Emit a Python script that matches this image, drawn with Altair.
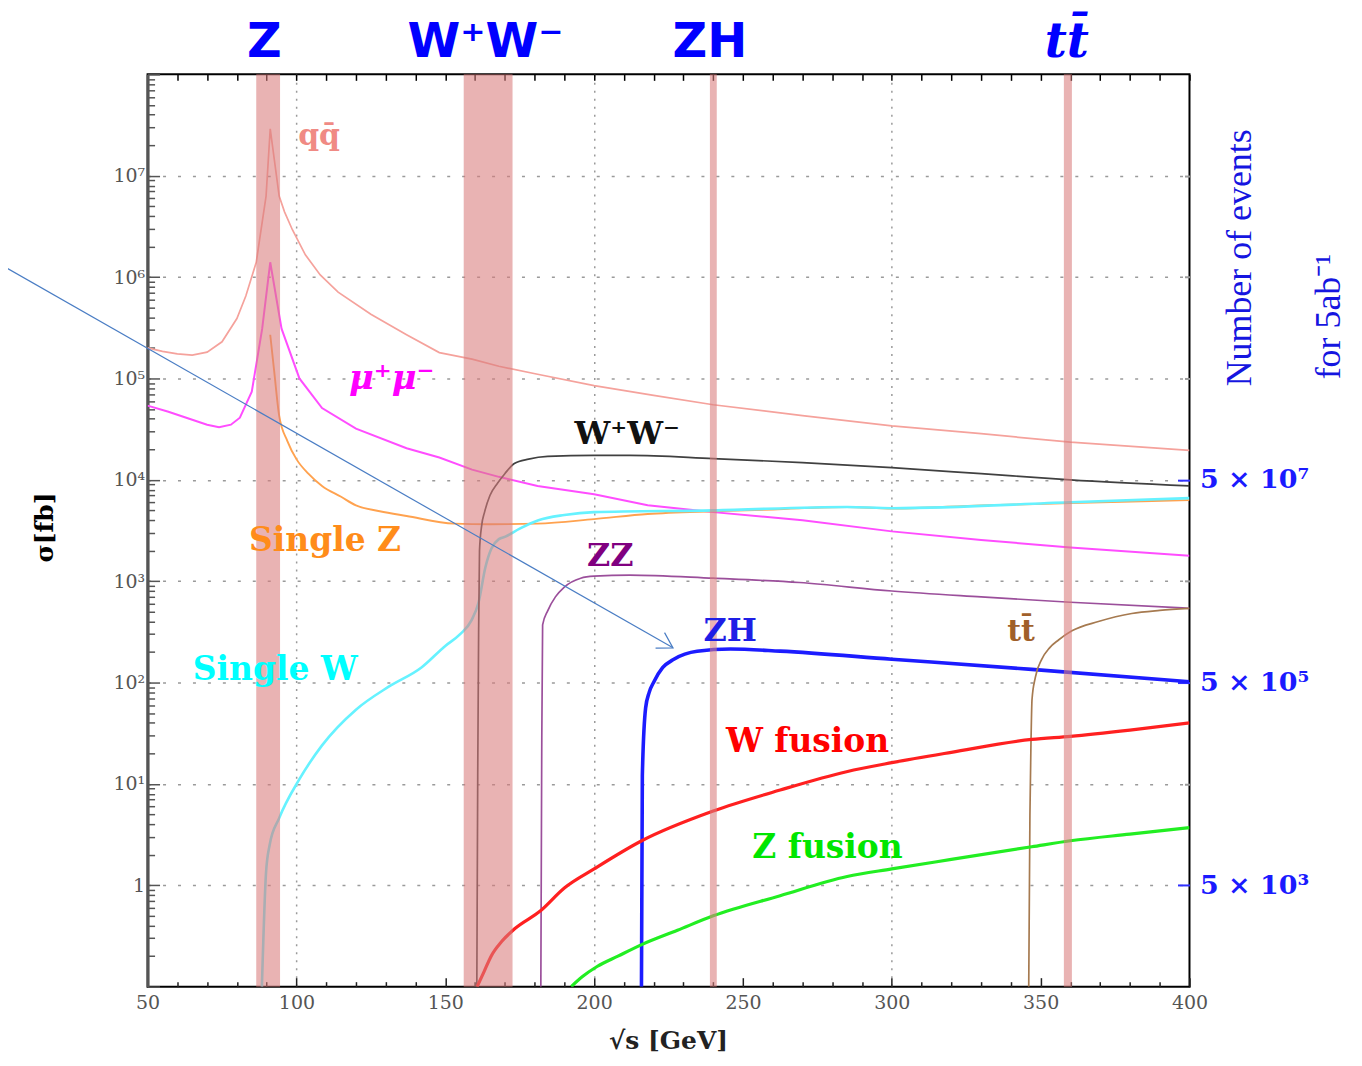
import altair as alt
import pandas as pd

# ---------------- data (x: sqrt(s) [GeV], y: sigma [fb]) ----------------
qq_x = [50, 55, 60, 65, 70, 75, 80, 83, 86.5, 89.8, 91.2, 94.2, 96, 98.6, 103, 108, 114, 125, 137, 148,
        159, 168, 181, 200, 220, 240, 270, 300, 330, 360, 400]
qq_y = [2.0e5, 1.85e5, 1.75e5, 1.7e5, 1.82e5, 2.3e5, 3.9e5, 6.5e5, 1.4e6, 6.3e6, 2.9e7, 6.3e6, 4.4e6, 2.95e6,
        1.66e6, 1.05e6, 7.1e5, 4.3e5, 2.7e5, 1.8e5, 1.55e5, 1.32e5, 1.1e5, 8.5e4, 6.8e4, 5.5e4, 4.3e4, 3.4e4,
        2.85e4, 2.35e4, 1.95e4]

mm_x = [50, 57, 64, 70, 74, 78, 81, 85, 88.5, 91.2, 95, 101, 108.6, 120, 137, 148, 159, 168, 181, 200,
        218, 240, 270, 300, 330, 360, 400]
mm_y = [5.4e4, 4.7e4, 4.0e4, 3.5e4, 3.3e4, 3.5e4, 4.1e4, 7.4e4, 3.1e5, 1.4e6, 3.1e5, 1.0e5, 5.1e4, 3.2e4,
        2.05e4, 1.66e4, 1.26e4, 1.07e4, 8.7e3, 7.2e3, 5.6e3, 4.8e3, 4.0e3, 3.1e3, 2.55e3, 2.15e3, 1.78e3]

sz_x = [91.2, 92.5, 94.2, 97, 100, 104, 108.6, 115, 120, 128, 137, 153, 165, 181, 200, 218, 240, 260, 285,
        300, 330, 360, 400]
sz_y = [2.7e5, 1.2e5, 4.3e4, 2.4e4, 1.6e4, 1.15e4, 8.7e3, 6.8e3, 5.6e3, 4.9e3, 4.4e3, 3.7e3, 3.65e3, 3.7e3,
        4.1e3, 4.6e3, 4.9e3, 5.1e3, 5.4e3, 5.2e3, 5.6e3, 5.9e3, 6.3e3]

sw_x = [88.4, 89.8, 91, 94.2, 100.9, 108.6, 120, 131, 142, 150, 155, 158.8, 161.2, 163.5, 165.5, 168, 170.2,
        175, 181.3, 190, 200, 240, 285, 300, 360, 400]
sw_y = [0.1, 1.35, 2.5, 4.6, 11, 24, 54, 91, 141, 230, 300, 410, 620, 1380, 2100, 2600, 2750, 3300, 4000,
        4500, 4800, 5000, 5400, 5250, 6000, 6600]

ww_x = [160.6, 160.9, 161.2, 161.5, 162.2, 163.2, 165, 167.6, 170, 173.2, 178, 184.4, 200, 212, 240, 270,
        300, 330, 360, 400]
ww_y = [0.1, 12, 300, 2000, 3500, 4800, 7000, 9300, 11500, 14500, 16000, 17000, 17400, 17400, 16200, 14800,
        13200, 11500, 10000, 8700]

zz_x = [182.1, 182.4, 182.7, 184.4, 187, 189.9, 195.5, 200, 212, 240, 269, 300, 330, 360, 400]
zz_y = [0.1, 20, 370, 510, 700, 870, 1070, 1120, 1150, 1070, 970, 800, 700, 620, 540]

zh_x = [215.9, 216.2, 217.3, 218.5, 220.1, 223, 226.8, 234.6, 245.8, 262.5, 300, 347, 400]
zh_y = [0.1, 12, 56, 80, 102, 140, 170, 204, 214, 204, 170, 135, 102]

tt_x = [346.0, 346.4, 346.8, 347.1, 348.2, 350.4, 353, 356, 360.5, 369.4, 380.6, 390, 400]
tt_y = [0.1, 5, 30, 68, 112, 170, 220, 263, 324, 400, 480, 515, 540]

wf_x = [160.7, 163, 165.4, 169, 173.2, 182, 190, 200, 216, 240, 262.5, 284.8, 300, 320, 347, 360, 380, 400]
wf_y = [0.1, 0.14, 0.2, 0.28, 0.37, 0.56, 0.94, 1.45, 2.75, 5.4, 8.7, 13.2, 16.2, 20.5, 27.5, 29.5, 34, 40]

zf_x = [192.3, 196, 201, 208, 216, 228, 240, 262.5, 285, 300, 320, 347, 360, 380, 400]
zf_y = [0.1, 0.125, 0.158, 0.2, 0.26, 0.36, 0.5, 0.79, 1.22, 1.45, 1.8, 2.4, 2.75, 3.2, 3.7]

# resonance / threshold bands [GeV]
band_name = ["Z", "WW", "ZH", "tt"]
band_lo = [86.5, 156.2, 238.9, 357.8]
band_hi = [94.5, 172.6, 241.2, 360.5]

# axis ticks and labels
x_tick_values = list(range(50, 401, 10))
y_label_values = [1, 10, 100, 1e3, 1e4, 1e5, 1e6, 1e7]
y_label_texts = ["1", "10¹", "10²", "10³", "10⁴", "10⁵", "10⁶", "10⁷"]
y_minor_values = sorted(float(m * 10.0 ** k) for k in range(-1, 8) for m in range(1, 10)) + [1e8]
r_label_values = [1, 100, 1e4]
r_label_texts = ["5 × 10³", "5 × 10⁵", "5 × 10⁷"]
r_tick_values = [1, 10, 100, 1e3, 1e4, 1e5, 1e6, 1e7]

# annotation arrow (start far left, tip near the ZH curve)
arrow_x = [0.4, 226.5]
arrow_y = [1.34e6, 220]

# ---------------- styling ----------------
series = [
    ("qq", qq_x, qq_y, "#F5A29C", 1.7, "linear"),
    ("mumu", mm_x, mm_y, "#FF4DFF", 2.0, "linear"),
    ("singleZ", sz_x, sz_y, "#FFA24F", 1.9, "monotone"),
    ("singleW", sw_x, sw_y, "#66F2FF", 2.6, "monotone"),
    ("WW", ww_x, ww_y, "#404040", 1.7, "monotone"),
    ("ZZ", zz_x, zz_y, "#9B4F9B", 1.7, "monotone"),
    ("ZH", zh_x, zh_y, "#1C1CFF", 3.6, "monotone"),
    ("tt", tt_x, tt_y, "#A67A50", 1.7, "monotone"),
    ("Wfusion", wf_x, wf_y, "#FF2020", 3.2, "monotone"),
    ("Zfusion", zf_x, zf_y, "#22EE22", 3.2, "monotone"),
]

band_df = pd.DataFrame({"name": band_name, "lo": band_lo, "hi": band_hi})

W, H = 1045, 915
xscale = alt.Scale(domain=[50, 400], nice=False, zero=False)
yscale = alt.Scale(type="log", domain=[0.1, 1e8], nice=False)

LOG10 = "(log(datum.value)/LN10)"
IS_DEC = f"(abs({LOG10} - round({LOG10})) < 0.001)"


def match_expr(values, texts, default="''"):
    expr = default
    for v, t in zip(values, texts):
        expr = f"(abs(datum.value - {v}) < {v} * 0.001) ? '{t}' : ({expr})"
    return expr


is_rlab = " || ".join(f"(abs(datum.value - {v}) < {v} * 0.001)" for v in r_label_values)

bottom_axis = alt.Axis(
    orient="bottom",
    values=x_tick_values,
    labelExpr="datum.value % 50 == 0 ? datum.label : ''",
    labelFont="DejaVu Serif",
    labelFontSize=19,
    labelColor="#555555",
    labelPadding=16,
    labelFlush=False,
    labelOverlap=False,
    tickSize=alt.ExprRef(expr="datum.value % 50 == 0 ? -9 : -5"),
    tickColor="#222222",
    tickWidth=1.5,
    domain=False,
    grid=True,
    gridOpacity=alt.ExprRef(expr="(datum.value % 100 == 0 && datum.value > 50 && datum.value < 400) ? 1 : 0"),
    gridDash=[2, 6],
    gridColor="#9a9a9a",
    gridWidth=1.5,
    title="√s [GeV]",
    titleFont="DejaVu Serif",
    titleFontSize=25,
    titleFontWeight="bold",
    titleColor="#222222",
    titleX=522,
    titleY=54,
    titleAlign="center",
    titleBaseline="middle",
)

left_axis = alt.Axis(
    orient="left",
    values=y_minor_values,
    labelExpr=match_expr(y_label_values, y_label_texts),
    labelFont="DejaVu Serif",
    labelFontSize=19,
    labelColor="#555555",
    labelPadding=15,
    labelFlush=False,
    labelOverlap=False,
    tickSize=alt.ExprRef(expr=f"{IS_DEC} ? -12 : -7"),
    tickColor="#555555",
    tickWidth=1.5,
    domain=True,
    domainColor="#555555",
    domainWidth=3,
    grid=True,
    gridOpacity=alt.ExprRef(expr=f"({IS_DEC} && datum.value > 0.5 && datum.value < 2e7) ? 1 : 0"),
    gridDash=[3, 12],
    gridColor="#9a9a9a",
    gridWidth=1.5,
    title="σ[fb]",
    titleFont="DejaVu Serif",
    titleFontSize=25,
    titleFontWeight="bold",
    titleColor="#000000",
    titleAngle=270,
    titleX=-103,
    titleY=454,
    titleAlign="center",
    titleBaseline="middle",
)

top_axis = alt.Axis(
    orient="top",
    values=x_tick_values,
    labels=False,
    domain=False,
    grid=False,
    tickSize=alt.ExprRef(expr="-6"),
    tickColor="#000000",
    tickWidth=1.5,
    title=None,
)

right_axis = alt.Axis(
    orient="right",
    values=r_tick_values,
    labelExpr=match_expr(r_label_values, r_label_texts),
    labelFont="DejaVu Serif",
    labelFontSize=27,
    labelFontWeight="bold",
    labelColor="#1a1aff",
    labelPadding=22,
    labelFlush=False,
    labelOverlap=False,
    tickSize=alt.ExprRef(expr=f"({is_rlab}) ? -12 : -5"),
    tickColor=alt.ExprRef(expr=f"({is_rlab}) ? '#3030ff' : '#999999'"),
    tickWidth=2,
    domain=False,
    grid=False,
    title=None,
)

# ---------------- layers ----------------
curve_layers = []
for i, (sid, xs, ys, col, sw, interp) in enumerate(series):
    df = pd.DataFrame({"x": xs, "y": ys})
    curve_layers.append(
        alt.Chart(df).mark_line(clip=True, color=col, strokeWidth=sw, interpolate=interp).encode(
            x=alt.X("x:Q", scale=xscale, axis=bottom_axis if i == 0 else None),
            y=alt.Y("y:Q", scale=yscale, axis=left_axis if i == 0 else None),
        )
    )

axes2 = alt.Chart(pd.DataFrame({"x": qq_x, "y": qq_y})).mark_point(opacity=0, size=1).encode(
    x=alt.X("x:Q", scale=xscale, axis=top_axis),
    y=alt.Y("y:Q", scale=yscale, axis=right_axis),
)

bands = alt.Chart(band_df).mark_rect(color="#D97C7C", opacity=0.58).encode(
    x=alt.X("lo:Q", scale=xscale, axis=None),
    x2="hi:Q",
)


def label(text, x, y, color, size, font="DejaVu Serif", weight="bold", style="normal",
          angle=0, align="center"):
    df = pd.DataFrame({"x": [x], "y": [y], "t": [text]})
    return alt.Chart(df).mark_text(
        color=color, fontSize=size, font=font, fontWeight=weight, fontStyle=style,
        angle=angle, align=align, baseline="alphabetic",
    ).encode(
        x=alt.X("x:Q", scale=xscale, axis=None),
        y=alt.Y("y:Q", scale=yscale, axis=None),
        text="t:N",
    )


texts = [
    label("qq̄", 107.6, 2.0e7, "#F08A84", 30),
    label("μ⁺μ⁻", 132.0, 7.8e4, "#FF00FF", 34, style="italic"),
    label("W⁺W⁻", 211.1, 2.25e4, "#111111", 32),
    label("Single Z", 109.6, 1970, "#FF8C1A", 33),
    label("ZZ", 205.4, 1400, "#800080", 32),
    label("ZH", 245.7, 255, "#1E1EE6", 32),
    label("tt̄", 343.4, 255, "#A0602A", 30),
    label("Single W", 92.9, 107, "#00FFFF", 33),
    label("W fusion", 271.7, 20.6, "#FF0000", 33),
    label("Z fusion", 278.4, 1.84, "#00E600", 33),
    # process labels above the plot
    label("Z", 89.2, 1.5e8, "#0000FF", 48, font="DejaVu Sans"),
    label("W⁺W⁻", 163.5, 1.5e8, "#0000FF", 48, font="DejaVu Sans"),
    label("ZH", 238.9, 1.5e8, "#0000FF", 48, font="DejaVu Sans"),
    label("tt̄", 358.8, 1.5e8, "#0000FF", 48, font="DejaVu Serif", style="italic"),
    # right-hand axis title
    label("Number of events", 420.5, 8.36e4, "#1515E0", 36, font="Liberation Serif",
          weight="normal", angle=270, align="left"),
    label("for 5ab⁻¹", 450.5, 9.8e4, "#1515E0", 36, font="Liberation Serif",
          weight="normal", angle=270, align="left"),
]

arrow_df = pd.DataFrame({"x": arrow_x, "y": arrow_y})
arrow_line = alt.Chart(arrow_df).mark_line(color="#4A7DC4", strokeWidth=1.2).encode(
    x=alt.X("x:Q", scale=xscale, axis=None),
    y=alt.Y("y:Q", scale=yscale, axis=None),
)
arrow_head = alt.Chart(arrow_df.iloc[[-1]]).mark_point(
    shape="M-1,-0.6L0,0L-1,0.6", filled=False, size=900, angle=30,
    strokeWidth=1.2, color="#4A7DC4", opacity=1,
).encode(
    x=alt.X("x:Q", scale=xscale, axis=None),
    y=alt.Y("y:Q", scale=yscale, axis=None),
)

chart = alt.layer(*curve_layers, axes2, bands, *texts, arrow_line, arrow_head).resolve_axis(
    x="independent", y="independent"
).properties(
    width=W,
    height=H,
    autosize=alt.AutoSizeParams(type="none"),
    padding={"left": 140, "top": 65, "right": 165, "bottom": 68},
    background="white",
).configure_view(stroke="#000000", strokeWidth=2)

chart.save("out.html", embed_options={"renderer": "svg", "actions": False})
